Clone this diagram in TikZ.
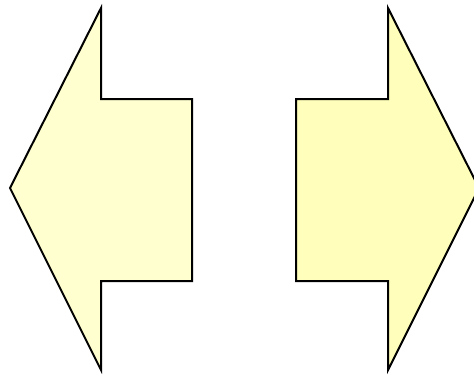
\documentclass[tikz,border=0pt]{standalone}
\usepackage{tikz}
\usepackage{xcolor}

\definecolor{paleyellow}{HTML}{FFFFCF}
\definecolor{lightyellow}{HTML}{FFFFBB}

\tikzset{
  arrowshape/.style={draw=black, line width=1.5pt, line join=miter}
}

\begin{document}
\begin{tikzpicture}[x=0.75pt, y=-0.75pt]
  \useasboundingbox (0,0) rectangle (474,376);
  \clip (0,0) rectangle (474,376);

  % left arrow
  \draw[arrowshape, fill=paleyellow] (10,188) -- (101,8) -- (101,99) -- (192,99)
    -- (192,281) -- (101,281) -- (101,370) -- cycle;

  % right arrow
  \draw[arrowshape, fill=lightyellow] (296,99) -- (388,99) -- (388,8) -- (479,188)
    -- (388,370) -- (388,281) -- (296,281) -- cycle;
\end{tikzpicture}
\end{document}
